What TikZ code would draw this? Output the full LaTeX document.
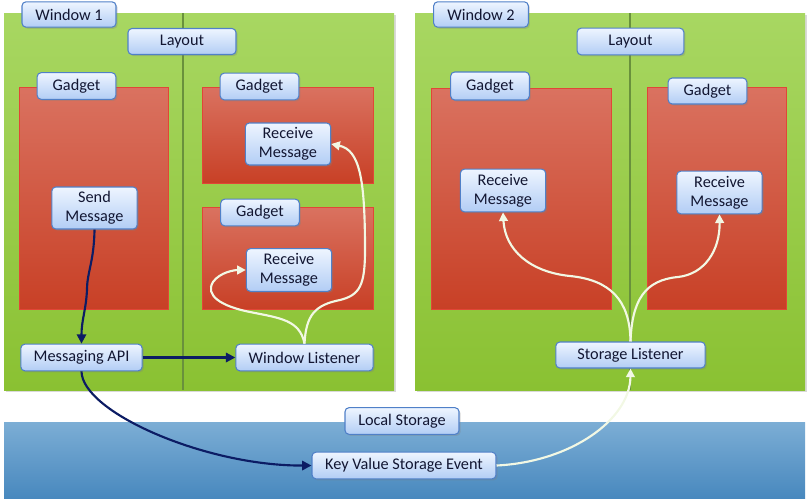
\documentclass[tikz,border=0pt]{standalone}
\usepackage{fontspec}
\setmainfont{Carlito}
\usetikzlibrary{arrows.meta,shadows}

\definecolor{wintop}{RGB}{168,215,98}
\definecolor{winbot}{RGB}{138,193,50}
\definecolor{winline}{RGB}{105,145,60}
\definecolor{gadtop}{RGB}{218,114,96}
\definecolor{gadbot}{RGB}{200,64,38}
\definecolor{gadline}{RGB}{225,70,55}
\definecolor{bandtop}{RGB}{124,174,213}
\definecolor{bandbot}{RGB}{72,136,190}
\definecolor{boxtop}{RGB}{238,245,255}
\definecolor{boxbot}{RGB}{178,205,245}
\definecolor{boxline}{RGB}{80,128,200}
\definecolor{txt}{RGB}{18,22,50}
\definecolor{navy}{RGB}{12,28,100}
\definecolor{pale}{RGB}{242,248,228}

\begin{document}
\begin{tikzpicture}[x=0.75pt,y=0.75pt,yscale=-1,xscale=1,
  lbl/.style={draw=boxline,line width=0.8pt,rounded corners=3pt,top color=boxtop,bottom color=boxbot,
    text=txt,font=\fontsize{12.2}{14.5}\selectfont,align=center,inner sep=0pt,
    drop shadow={opacity=0.3,shadow xshift=1.2pt,shadow yshift=-1.2pt}},
  win/.style={top color=wintop,bottom color=winbot,drop shadow={opacity=0.3,shadow xshift=1.5pt,shadow yshift=-1.5pt}},
  gadget/.style={draw=gadline,line width=0.6pt,top color=gadtop,bottom color=gadbot},
  navyarrow/.style={draw=navy,line width=1.6pt,-{Triangle[length=7pt,width=7pt]}},
  palearrow/.style={draw=pale,line width=1.6pt,-{Triangle[length=6.5pt,width=6.5pt]}}]
%set diagram to 809 x 500
\useasboundingbox (0,0) rectangle (809,500);

%Windows
\path [win] (4,13) rectangle (394,390) ;
\path [win] (415,13) rectangle (805,390) ;
\draw [winline,line width=0.8pt] (183,13) -- (183,390) ;
\draw [winline,line width=0.8pt] (630,13) -- (630,390) ;
%Local storage band
\path [top color=bandtop,bottom color=bandbot] (4,422) rectangle (805,498) ;

%Gadgets
\draw [gadget] (19,87) rectangle (168,309) ;
\draw [gadget] (202,87) rectangle (373,183) ;
\draw [gadget] (202,207) rectangle (373,309) ;
\draw [gadget] (431,88) rectangle (611,309) ;
\draw [gadget] (647,87) rectangle (786,309) ;

% Text Nodes
\node [lbl,minimum width=70.5pt,minimum height=19pt] (win1) at (69,14.5) {Window 1};
\node [lbl,minimum width=81pt,minimum height=19.5pt] (lay1) at (182,41.5) {Layout};
\node [lbl,minimum width=59pt,minimum height=20pt] (gad1) at (76.5,86) {Gadget};
\node [lbl,minimum width=59pt,minimum height=20pt] (gad2) at (259.5,86.5) {Gadget};
\node [lbl,minimum width=59pt,minimum height=20pt] (gad3) at (260,212.5) {Gadget};
\node [lbl,minimum width=64pt,minimum height=31.5pt] (rm1) at (288,144) {Receive\\Message};
\node [lbl,minimum width=64pt,minimum height=32pt] (rm2) at (289,270) {Receive\\Message};
\node [lbl,minimum width=64pt,minimum height=31.5pt] (send) at (94.5,208) {Send\\Message};
\node [lbl,minimum width=91pt,minimum height=20pt] (api) at (81.5,357.5) {Messaging API};
\node [lbl,minimum width=103pt,minimum height=20pt] (wl) at (304.5,357.5) {Window Listener};
\node [lbl,minimum width=85.5pt,minimum height=20pt] (ls) at (402,421) {Local Storage};
\node [lbl,minimum width=138pt,minimum height=20pt] (kv) at (404,465.5) {Key Value Storage Event};
\node [lbl,minimum width=71pt,minimum height=19pt] (win2) at (481,14.5) {Window 2};
\node [lbl,minimum width=80pt,minimum height=20pt] (lay2) at (630.5,41.5) {Layout};
\node [lbl,minimum width=59pt,minimum height=21pt] (gad4) at (490,86) {Gadget};
\node [lbl,minimum width=59pt,minimum height=19.5pt] (gad5) at (707.5,91) {Gadget};
\node [lbl,minimum width=64pt,minimum height=32pt] (rm3) at (503,190.5) {Receive\\Message};
\node [lbl,minimum width=64pt,minimum height=32pt] (rm4) at (719.5,192.5) {Receive\\Message};
\node [lbl,minimum width=112pt,minimum height=19.5pt] (sl) at (630.5,355) {Storage Listener};

%Connectors in window 1
\draw [navyarrow] (send.south) .. controls (94,262) and (87,272) .. (87,290) .. controls (86,310) and (81.5,320) .. (api.north) ;
\draw [navyarrow] (api.east) -- (wl.west) ;
\draw [navyarrow] (api.south) .. controls (82,412) and (205,466) .. (kv.west) ;
\draw [palearrow] (wl.north) .. controls (306,315) and (315,305) .. (340,300) .. controls (360,295) and (365,285) .. (365,250) .. controls (365,180) and (360,150) .. (rm1.east) ;
\draw [palearrow] (wl.north) .. controls (300,320) and (280,318) .. (250,312) .. controls (220,306) and (205,295) .. (213,282) .. controls (220,272) and (235,270) .. (rm2.west) ;
%Connectors in window 2
\draw [palearrow] (kv.east) .. controls (570,462) and (630,420) .. (sl.south) ;
\draw [palearrow] (sl.north) .. controls (630,300) and (610,280) .. (570,276) .. controls (530,272) and (505,250) .. (rm3.south) ;
\draw [palearrow] (sl.north) .. controls (632,300) and (645,280) .. (678,277) .. controls (705,274) and (720,250) .. (rm4.south) ;

\end{tikzpicture}
\end{document}
